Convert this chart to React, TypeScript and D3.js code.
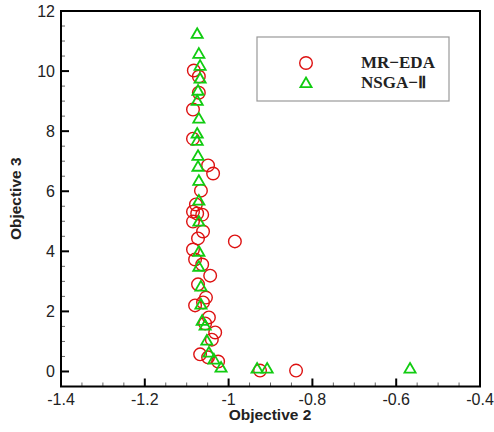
import React from "react";
import * as d3 from "d3";

const mrX = [-1.083, -1.071, -1.071, -1.085, -1.085, -1.049, -1.037, -1.066, -1.078, -1.085, -1.075, -1.063, -1.085, -1.061, -1.073, -0.985, -1.085, -1.080, -1.063, -1.044, -1.073, -1.054, -1.061, -1.080, -1.047, -1.056, -1.032, -1.040, -1.068, -1.049, -1.025, -0.925, -0.839];
const mrY = [10.02, 9.82, 9.28, 8.72, 7.75, 6.86, 6.59, 6.02, 5.56, 5.32, 5.26, 5.22, 4.99, 4.66, 4.43, 4.33, 4.06, 3.73, 3.56, 3.19, 2.90, 2.46, 2.30, 2.20, 1.80, 1.60, 1.30, 1.06, 0.57, 0.47, 0.33, 0.03, 0.03];

const nsX = [-1.075, -1.071, -1.068, -1.068, -1.073, -1.075, -1.071, -1.075, -1.075, -1.073, -1.073, -1.071, -1.071, -1.071, -1.071, -1.071, -1.066, -1.066, -1.063, -1.056, -1.052, -1.047, -1.035, -1.018, -0.932, -0.908, -0.567];
const nsY = [11.21, 10.55, 10.15, 9.72, 9.32, 8.98, 8.39, 7.89, 7.65, 7.15, 6.79, 6.32, 5.66, 4.96, 3.96, 3.46, 2.80, 2.20, 1.66, 1.50, 1.00, 0.60, 0.37, 0.10, 0.07, 0.07, 0.07];

const xTicks = [-1.4, -1.2, -1, -0.8, -0.6, -0.4];
const yTicks = [0, 2, 4, 6, 8, 10, 12];
const seriesNames = ["MR\u2212EDA", "NSGA\u2212\u2161"];
const xTitle = "Objective 2";
const yTitle = "Objective 3";

const RED = "#dd1111";
const GREEN = "#11cc11";

export default function App() {
  const W = 494, H = 432;
  const left = 61, right = 480, top = 11, bottom = 386.5;
  const x = d3.scaleLinear().domain([-1.4, -0.4]).range([left, right]);
  const y = d3.scaleLinear().domain([-0.5, 12]).range([bottom, top]);
  const tri = d3.symbol().type(d3.symbolTriangle).size(54)() as string;

  const xMinor = d3.range(-1.4, -0.4 + 1e-9, 0.05).filter(v => Math.abs(v * 5 - Math.round(v * 5)) > 1e-6);
  const yMinor = d3.range(-0.5, 12 + 1e-9, 0.5).filter(v => Math.abs(v / 2 - Math.round(v / 2)) > 1e-6);

  const tickFont = "Liberation Sans, Arial, sans-serif";

  return (
    <div style={{ position: "absolute", left: 0, top: 0 }}>
      <svg width={W} height={H} style={{ display: "block", background: "#fff" }}>
        {xMinor.map((v, i) => (
          <line key={"xm" + i} x1={x(v)} x2={x(v)} y1={bottom} y2={bottom - 4} stroke="#666" strokeWidth={1} />
        ))}
        {yMinor.map((v, i) => (
          <line key={"ym" + i} x1={left} x2={left + 4} y1={y(v)} y2={y(v)} stroke="#666" strokeWidth={1} />
        ))}
        {xTicks.map((v, i) => (
          <line key={"xM" + i} x1={x(v)} x2={x(v)} y1={bottom} y2={bottom - 8} stroke="#000" strokeWidth={2} />
        ))}
        {yTicks.map((v, i) => (
          <line key={"yM" + i} x1={left} x2={left + 8} y1={y(v)} y2={y(v)} stroke="#000" strokeWidth={2} />
        ))}
        <g>
          {mrX.map((v, i) => (
            <circle key={"c" + i} cx={x(v)} cy={y(mrY[i])} r={6.3} fill="none" stroke={RED} strokeWidth={1.4} />
          ))}
          {nsX.map((v, i) => (
            <path key={"t" + i} d={tri} transform={`translate(${x(v)},${y(nsY[i])})`} fill="none" stroke={GREEN} strokeWidth={1.8} />
          ))}
        </g>
        <rect x={left} y={top} width={right - left} height={bottom - top} fill="none" stroke="#000" strokeWidth={2} />
        {xTicks.map((v, i) => (
          <text key={"xl" + i} x={x(v)} y={404.5} textAnchor="middle" fontFamily={tickFont} fontSize={16} fill="#222">
            {String(v)}
          </text>
        ))}
        {yTicks.map((v, i) => (
          <text key={"yl" + i} x={55} y={y(v) + 6} textAnchor="end" fontFamily={tickFont} fontSize={16} fill="#222">
            {v}
          </text>
        ))}
        <text x={270} y={419.5} textAnchor="middle" fontFamily={tickFont} fontWeight="bold" fontSize={15.5} fill="#222">
          {xTitle}
        </text>
        <text transform={`translate(21,${(top + bottom) / 2}) rotate(-90)`} textAnchor="middle" fontFamily={tickFont} fontWeight="bold" fontSize={15.5} fill="#222">
          {yTitle}
        </text>
        <rect x={257} y={37} width={192} height={64} fill="#fff" stroke="#999" strokeWidth={1.2} />
        <circle cx={306} cy={63} r={6.3} fill="none" stroke={RED} strokeWidth={1.4} />
        <path d={tri} transform="translate(306,84)" fill="none" stroke={GREEN} strokeWidth={1.8} />
        <text x={361} y={68} fontFamily="Liberation Serif, Times New Roman, serif" fontWeight="bold" fontSize={17} fill="#222">
          {seriesNames[0]}
        </text>
        <text x={361} y={88} fontFamily="Liberation Serif, Times New Roman, serif" fontWeight="bold" fontSize={17} fill="#222">
          {seriesNames[1]}
        </text>
      </svg>
    </div>
  );
}
